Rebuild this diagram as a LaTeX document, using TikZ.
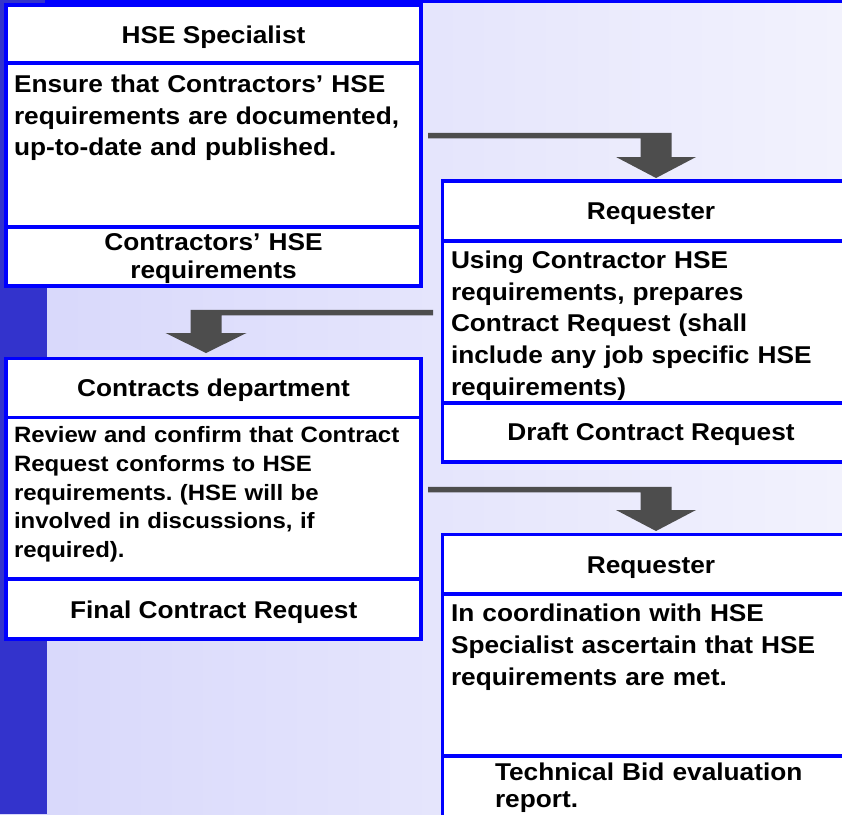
\documentclass[tikz,border=0pt]{standalone}
\usepackage{fontspec}
\setmainfont{Liberation Sans}[FakeStretch=1.08]
\usetikzlibrary{calc}
\definecolor{boxblue}{HTML}{0000FF}
\definecolor{stripblue}{HTML}{3333CC}
\definecolor{arrowgray}{HTML}{4D4D4D}
\definecolor{bgleft}{HTML}{D7D7FB}
\definecolor{bgmid}{HTML}{DFDFFB}
\definecolor{bgright}{HTML}{F2F2FD}
\frenchspacing
\begin{document}
\begin{tikzpicture}[x=1pt,y=-1pt,
  section/.style={rectangle, draw=boxblue, line width=3.8pt, fill=white,
    inner sep=0pt, outer sep=0pt, anchor=north west},
  lwide/.style={minimum width=415.3pt},
  rwide/.style={minimum width=418.5pt},
  txt/.style={inner sep=0pt, outer sep=0pt, font=\fontsize{24.3}{31.7}\selectfont\bfseries},
  txtsmall/.style={inner sep=0pt, outer sep=0pt, font=\fontsize{22.2}{28.75}\selectfont\bfseries},
  bodytext/.style={anchor=base west, text width=400pt, align=left},
  foottext/.style={anchor=base, text width=400pt, align=center},
  flow/.style={fill=arrowgray}
]
\useasboundingbox (0,0) rectangle (842,814);
\clip (0,0) rectangle (842,814);

% background
\shade[left color=bgleft, middle color=bgmid, right color=bgright] (0,0) rectangle (842,814);
\fill[stripblue] (0,0) rectangle (46.5,814);
\fill[boxblue] (45,0) rectangle (842,3);

% box 1: HSE Specialist
\node[section, lwide, minimum height=58.3pt] (b1title) at (5.7,5) {};
\node[section, lwide, minimum height=164pt] (b1body) at (5.7,63.3) {};
\node[section, lwide, minimum height=58.7pt] (b1foot) at (5.7,227.3) {};

% box 2: Requester
\node[section, rwide, minimum height=60pt] (b2title) at (442.5,181) {};
\node[section, rwide, minimum height=161.7pt] (b2body) at (442.5,241) {};
\node[section, rwide, minimum height=59pt] (b2foot) at (442.5,402.7) {};

% box 3: Contracts department
\node[section, lwide, minimum height=59pt] (b3title) at (5.7,358.5) {};
\node[section, lwide, minimum height=161.8pt] (b3body) at (5.7,417.5) {};
\node[section, lwide, minimum height=60pt] (b3foot) at (5.7,579.3) {};

% box 4: Requester
\node[section, rwide, minimum height=59.5pt] (b4title) at (442.5,534.5) {};
\node[section, rwide, minimum height=162pt] (b4body) at (442.5,594) {};
\node[section, rwide, minimum height=64pt] (b4foot) at (442.5,756) {};

% connectors
\coordinate (a1s) at ($(b1body.east)+(7,-9.6)$);
\coordinate (a1t) at ($(b2title.north)+(4.3,-3)$);
\coordinate (a1c) at (a1s -| a1t);
\fill[flow] ([yshift=2.75pt]a1s) -- ([xshift=15.5pt,yshift=2.75pt]a1c)
  -- ([xshift=15.5pt,yshift=21pt]a1t) -- ([xshift=40pt,yshift=21pt]a1t)
  -- (a1t) -- ([xshift=-40pt,yshift=21pt]a1t) -- ([xshift=-15.5pt,yshift=21pt]a1t)
  -- ([xshift=-15.5pt,yshift=-2.75pt]a1c) -- ([yshift=-2.75pt]a1s) -- cycle;

\coordinate (a2s) at ($(b2body.west)+(-9.5,-9.3)$);
\coordinate (a2t) at ($(b3title.north)+(-7.35,-5.5)$);
\coordinate (a2c) at (a2s -| a2t);
\fill[flow] ([yshift=2.75pt]a2s) -- ([xshift=-15.5pt,yshift=2.75pt]a2c)
  -- ([xshift=-15.5pt,yshift=20pt]a2t) -- ([xshift=-40.5pt,yshift=20pt]a2t)
  -- (a2t) -- ([xshift=40.5pt,yshift=20pt]a2t) -- ([xshift=15.5pt,yshift=20pt]a2t)
  -- ([xshift=15.5pt,yshift=-2.75pt]a2c) -- ([yshift=-2.75pt]a2s) -- cycle;

\coordinate (a3s) at ($(b3body.east)+(7,-8.9)$);
\coordinate (a3t) at ($(b4title.north)+(4.25,-3.5)$);
\coordinate (a3c) at (a3s -| a3t);
\fill[flow] ([yshift=2.75pt]a3s) -- ([xshift=15.5pt,yshift=2.75pt]a3c)
  -- ([xshift=15.5pt,yshift=21pt]a3t) -- ([xshift=40pt,yshift=21pt]a3t)
  -- (a3t) -- ([xshift=-40pt,yshift=21pt]a3t) -- ([xshift=-15.5pt,yshift=21pt]a3t)
  -- ([xshift=-15.5pt,yshift=-2.75pt]a3c) -- ([yshift=-2.75pt]a3s) -- cycle;

% texts
\node[txt, anchor=base] (t1title) at (213.5,43) {HSE Specialist};
\node[txt, bodytext] (t1body) at (14,92.3) {Ensure that Contractors’ HSE\\requirements are documented,\\up-to-date and published.};
\node[txt, foottext, font=\fontsize{24.3}{27.5}\selectfont\bfseries] (t1foot) at (213.5,250.7) {Contractors’ HSE\\requirements};

\node[txt, anchor=base] (t2title) at (651,219) {Requester};
\node[txt, bodytext] (t2body) at (451,268.3) {Using Contractor HSE\\requirements, prepares\\Contract Request (shall\\include any job specific HSE\\requirements)};
\node[txt, anchor=base] (t2foot) at (651,440.7) {Draft Contract Request};

\node[txt, anchor=base] (t3title) at (213.5,396.7) {Contracts department};
\node[txtsmall, bodytext] (t3body) at (14,442.7) {Review and confirm that Contract\\Request conforms to HSE\\requirements. (HSE will be\\involved in discussions, if\\required).};
\node[txt, anchor=base] (t3foot) at (213.7,618.3) {Final Contract Request};

\node[txt, anchor=base] (t4title) at (651,573) {Requester};
\node[txt, bodytext] (t4body) at (451,621.7) {In coordination with HSE\\Specialist ascertain that HSE\\requirements are met.};
\node[txt, bodytext, font=\fontsize{24.3}{27}\selectfont\bfseries] (t4foot) at (495,780) {Technical Bid evaluation\\report.};
\end{tikzpicture}
\end{document}
